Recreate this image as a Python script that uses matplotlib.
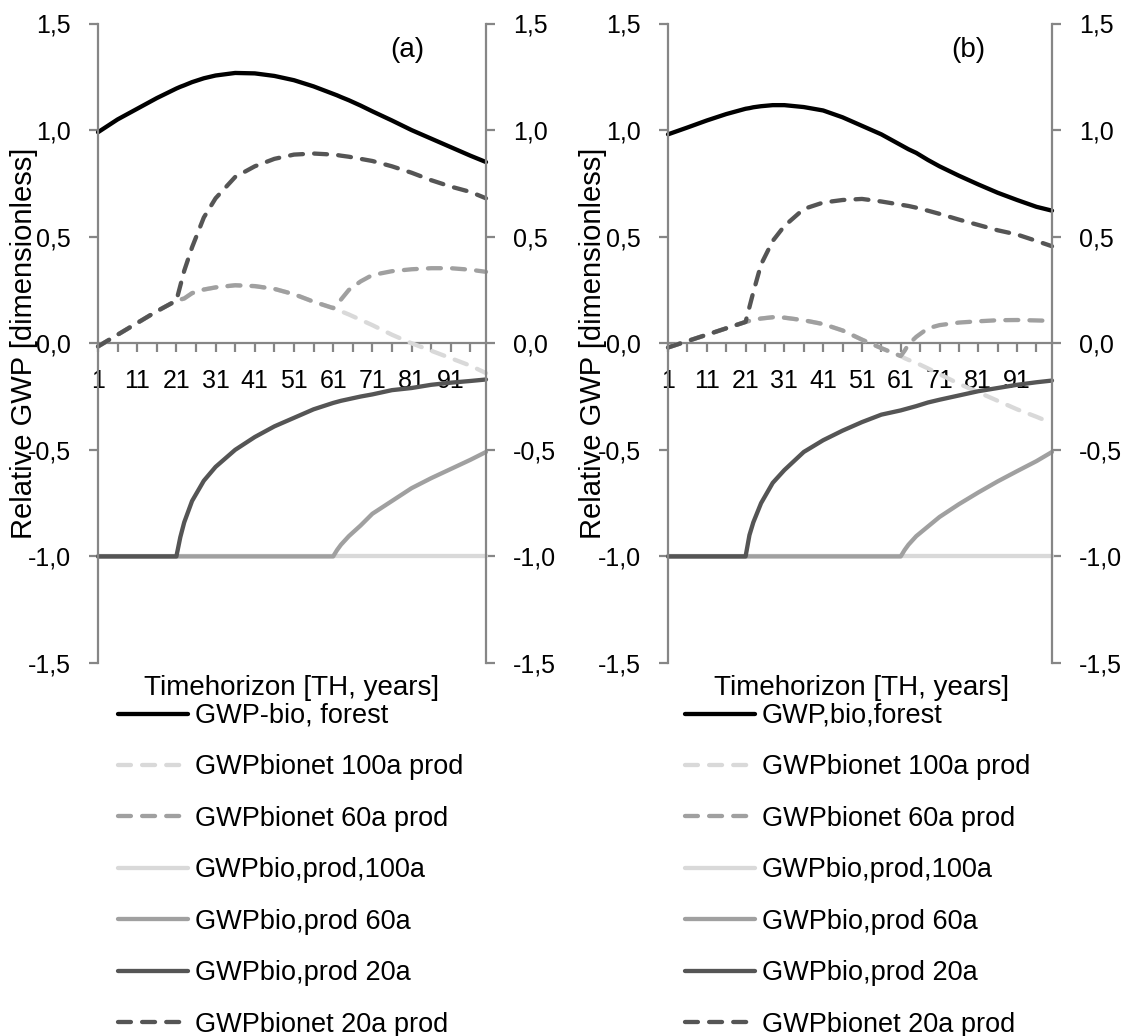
import matplotlib
matplotlib.use("Agg")
import matplotlib.pyplot as plt
from matplotlib.ticker import FixedLocator, FuncFormatter

plt.rcParams['font.family'] = ['Liberation Sans', 'DejaVu Sans']

# Time horizon (years) at which the curves are sampled
years = [1, 6, 11, 16, 21, 22, 23, 25, 28, 31, 36, 41, 46, 51, 56, 61, 62, 63,
         65, 68, 71, 76, 81, 86, 91, 96, 100]

# ---- panel (a) ----
forest_a = [0.99, 1.05, 1.10, 1.15, 1.195, 1.203, 1.21, 1.225, 1.243, 1.256, 1.268,
            1.266, 1.254, 1.234, 1.205, 1.17, 1.163, 1.155, 1.14, 1.115, 1.088,
            1.045, 1.0, 0.96, 0.92, 0.88, 0.85]
bionet100_a = [-0.015, 0.04, 0.095, 0.15, 0.20, 0.205, 0.21, 0.235, 0.252, 0.262,
               0.272, 0.268, 0.255, 0.23, 0.195, 0.165, 0.157, 0.15, 0.135, 0.11,
               0.085, 0.04, 0.0, -0.035, -0.07, -0.105, -0.14]
bionet60_a = [-0.015, 0.04, 0.095, 0.15, 0.20, 0.205, 0.21, 0.235, 0.252, 0.262,
              0.272, 0.268, 0.255, 0.23, 0.195, 0.165, 0.185, 0.205, 0.25, 0.29,
              0.32, 0.338, 0.347, 0.352, 0.352, 0.345, 0.335]
prod100_a = [-1.0] * 27
prod60_a = [-1.0, -1.0, -1.0, -1.0, -1.0, -1.0, -1.0, -1.0, -1.0, -1.0, -1.0, -1.0,
            -1.0, -1.0, -1.0, -1.0, -0.97, -0.945, -0.905, -0.855, -0.80, -0.74,
            -0.68, -0.633, -0.59, -0.547, -0.51]
prod20_a = [-1.0, -1.0, -1.0, -1.0, -1.0, -0.91, -0.84, -0.74, -0.645, -0.58, -0.50,
            -0.44, -0.39, -0.35, -0.31, -0.28, -0.275, -0.27, -0.262, -0.25, -0.24,
            -0.22, -0.21, -0.195, -0.185, -0.177, -0.17]
bionet20_a = [-0.015, 0.04, 0.095, 0.15, 0.20, 0.27, 0.34, 0.45, 0.59, 0.68, 0.78,
              0.83, 0.865, 0.885, 0.89, 0.885, 0.883, 0.88, 0.875, 0.865, 0.855,
              0.83, 0.80, 0.765, 0.735, 0.71, 0.68]

# ---- panel (b) ----
forest_b = [0.98, 1.012, 1.045, 1.075, 1.10, 1.103, 1.107, 1.112, 1.117, 1.117,
            1.108, 1.092, 1.06, 1.02, 0.98, 0.93, 0.92, 0.91, 0.893, 0.86, 0.83,
            0.786, 0.745, 0.706, 0.672, 0.64, 0.622]
bionet100_b = [-0.02, 0.01, 0.04, 0.07, 0.10, 0.105, 0.11, 0.116, 0.122, 0.12,
               0.108, 0.09, 0.06, 0.017, -0.023, -0.06, -0.07, -0.078, -0.092,
               -0.118, -0.145, -0.19, -0.23, -0.27, -0.31, -0.345, -0.375]
bionet60_b = [-0.02, 0.01, 0.04, 0.07, 0.10, 0.105, 0.11, 0.116, 0.122, 0.12,
              0.108, 0.09, 0.06, 0.017, -0.023, -0.06, -0.035, -0.005, 0.03, 0.07,
              0.085, 0.097, 0.103, 0.108, 0.109, 0.107, 0.105]
prod100_b = [-1.0] * 27
prod60_b = [-1.0, -1.0, -1.0, -1.0, -1.0, -1.0, -1.0, -1.0, -1.0, -1.0, -1.0, -1.0,
            -1.0, -1.0, -1.0, -1.0, -0.97, -0.945, -0.905, -0.86, -0.815, -0.755,
            -0.70, -0.648, -0.60, -0.553, -0.51]
prod20_b = [-1.0, -1.0, -1.0, -1.0, -1.0, -0.90, -0.84, -0.75, -0.655, -0.595, -0.51,
            -0.455, -0.41, -0.37, -0.335, -0.315, -0.31, -0.305, -0.295, -0.278,
            -0.265, -0.245, -0.225, -0.21, -0.195, -0.183, -0.175]
bionet20_b = [-0.02, 0.01, 0.04, 0.07, 0.10, 0.17, 0.24, 0.37, 0.48, 0.55, 0.63,
              0.66, 0.672, 0.677, 0.665, 0.65, 0.647, 0.644, 0.636, 0.622, 0.607,
              0.58, 0.555, 0.53, 0.51, 0.48, 0.455]

labels_a = ["GWP-bio, forest", "GWPbionet 100a prod", "GWPbionet 60a prod",
            "GWPbio,prod,100a", "GWPbio,prod 60a", "GWPbio,prod 20a",
            "GWPbionet 20a prod"]
labels_b = ["GWP,bio,forest", "GWPbionet 100a prod", "GWPbionet 60a prod",
            "GWPbio,prod,100a", "GWPbio,prod 60a", "GWPbio,prod 20a",
            "GWPbionet 20a prod"]

y_ticks = [-1.5, -1.0, -0.5, 0.0, 0.5, 1.0, 1.5]
x_label_ticks = [1, 11, 21, 31, 41, 51, 61, 71, 81, 91]
x_minor_ticks = [6, 16, 26, 36, 46, 56, 66, 76, 86, 96]

# line styles per series: colour, dashed?
styles = [("#000000", False), ("#d9d9d9", True), ("#a0a0a0", True),
          ("#d9d9d9", False), ("#a0a0a0", False), ("#555555", False),
          ("#555555", True)]

W, H = 1132, 1036
fig = plt.figure(figsize=(W / 100, H / 100), dpi=100)

AXIS_COLOR = "#868686"
LW = 3.1
DASH = (0, (3.0, 2.6))


def fx(px):
    return px / W


def fy(py):
    return 1 - py / H


def panel(left_px, right_px, series, labels, tag, tag_x, ylab_x, xlab_x, leg_x):
    ax = fig.add_axes([fx(left_px), fy(663), (right_px - left_px) / W, (663 - 23.5) / H])
    handles = []
    for vals, (col, dashed) in zip(series, styles):
        ln, = ax.plot(years, vals, color=col, lw=LW,
                      linestyle=DASH if dashed else "-",
                      solid_capstyle="round", dash_capstyle="round",
                      clip_on=False)
        handles.append(ln)
    ax.set_xlim(1, 100)
    ax.set_ylim(-1.5, 1.5)

    for s in ("left", "right", "bottom"):
        ax.spines[s].set_color(AXIS_COLOR)
        ax.spines[s].set_linewidth(1.6)
    ax.spines["top"].set_visible(False)
    ax.spines["bottom"].set_position(("data", 0))
    ax.spines["bottom"].set_zorder(1)

    ax.yaxis.set_major_locator(FixedLocator(y_ticks))
    ax.yaxis.set_major_formatter(FuncFormatter(lambda v, p: f"{v:.1f}".replace(".", ",")))
    ax.tick_params(axis="y", left=True, right=True, labelleft=True, labelright=True,
                   direction="out", length=6.5, width=1.6, color=AXIS_COLOR,
                   pad=13, labelsize=18)

    ax.xaxis.set_major_locator(FixedLocator(x_label_ticks))
    ax.xaxis.set_minor_locator(FixedLocator(x_minor_ticks))
    ax.xaxis.set_major_formatter(FuncFormatter(lambda v, p: f"{int(round(v))}"))
    ax.tick_params(axis="x", which="both", direction="out", length=6.5, width=1.6,
                   color=AXIS_COLOR, pad=12, labelsize=18)

    fig.text(fx(tag_x), fy(50), tag, fontsize=20, ha="center", va="center")
    fig.text(fx(ylab_x), fy(343), "Relative GWP [dimensionless]", fontsize=21,
             rotation=90, ha="center", va="center")
    fig.text(fx(xlab_x), fy(695), "Timehorizon [TH, years]", fontsize=20,
             ha="center", va="baseline")

    fig.legend(handles, labels, loc="upper left",
               bbox_to_anchor=(fx(leg_x), fy(703)), bbox_transform=fig.transFigure,
               frameon=False, borderpad=0, borderaxespad=0, handlelength=2.585,
               handletextpad=0.26, labelspacing=0.94, fontsize=19.5)
    return ax


panel(98, 486,
      [forest_a, bionet100_a, bionet60_a, prod100_a, prod60_a, prod20_a, bionet20_a],
      labels_a, "(a)", 407, 24, 291.5, 118)
panel(668, 1052,
      [forest_b, bionet100_b, bionet60_b, prod100_b, prod60_b, prod20_b, bionet20_b],
      labels_b, "(b)", 968, 593, 862, 685)

fig.savefig("out.png", dpi=100)
